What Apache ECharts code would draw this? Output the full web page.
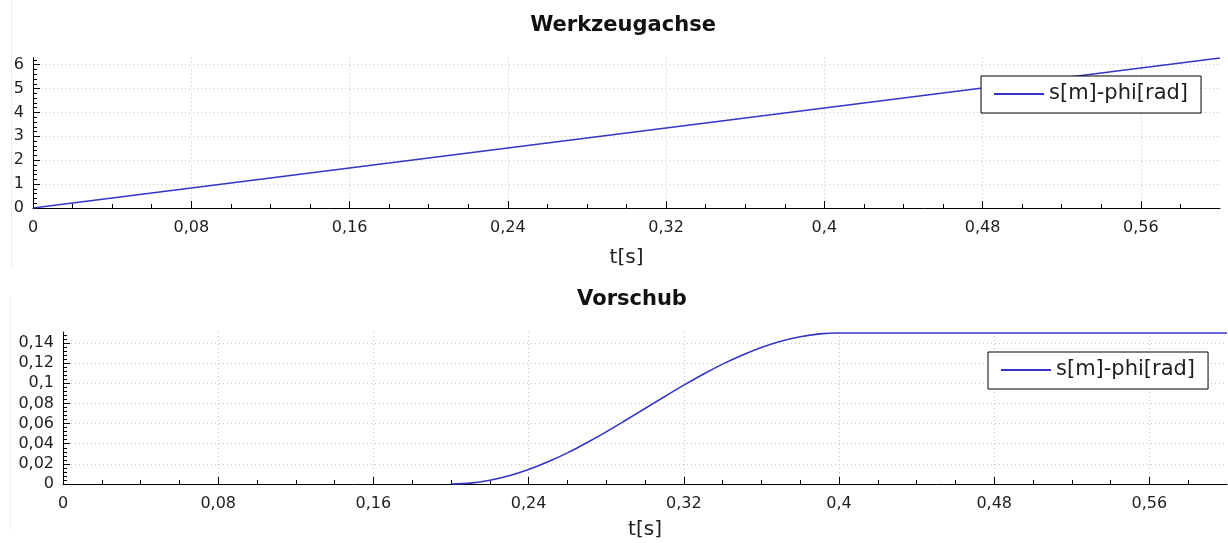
<!DOCTYPE html>
<html>
<head>
<meta charset="utf-8">
<script src="https://cdn.jsdelivr.net/npm/echarts@6/dist/echarts.min.js"></script>
<style>
  html, body { margin: 0; padding: 0; background: #fff; }
  #chart { width: 1228px; height: 543px; }
</style>
</head>
<body>
<div id="chart"></div>
<script>
const seriesName = 's[m]-phi[rad]';

// Werkzeugachse: tool axis, linear over the whole run
const toolTime  = [0, 0.3, 0.6];
const toolValue = [0, 3.14, 6.28];

// Vorschub: feed, S-shaped rise from 0.2 s, then holds
const feedTime  = [0.2, 0.21, 0.22, 0.23, 0.24, 0.25, 0.26, 0.27, 0.28, 0.29, 0.3,
                   0.31, 0.32, 0.33, 0.34, 0.35, 0.36, 0.37, 0.38, 0.39, 0.4, 0.6];
const feedValue = [0, 0.0009, 0.0037, 0.0082, 0.0143, 0.0220, 0.0309, 0.0410, 0.0518, 0.0633, 0.0750,
                   0.0867, 0.0982, 0.1091, 0.1191, 0.1280, 0.1357, 0.1418, 0.1463, 0.1491, 0.15, 0.15];

// tick labels
const timeTicks = [0, 0.08, 0.16, 0.24, 0.32, 0.4, 0.48, 0.56];
const toolTicks = [0, 1, 2, 3, 4, 5, 6];
const feedTicks = [0, 0.02, 0.04, 0.06, 0.08, 0.1, 0.12, 0.14];

const timeMax = 0.6, toolMax = 6.3, feedMax = 0.151;

// minor tick positions between the labelled ticks
function steps(step, max) {
  const out = [];
  for (let i = 1; i * step < max - 1e-9; i++) out.push(Math.round(i * step * 1e6) / 1e6);
  return out;
}
const timeMinor = steps(0.02, timeMax);
const toolMinor = steps(0.2, toolMax);
const feedMinor = steps(0.004, feedMax);

const FONT = 'DejaVu Sans';
const TEXT = '#1e1e1e';
const LINE = '#3434c6';
const comma = v => String(v).replace('.', ',');

const dotted = { show: true, lineStyle: { color: '#c4c4c4', width: 1, type: [1, 3] } };

function majorX(grid) {
  return {
    type: 'value', gridIndex: grid, position: 'bottom', min: 0, max: timeMax,
    name: 't[s]', nameLocation: 'middle', nameGap: grid === 0 ? 40 : 36,
    nameTextStyle: { fontFamily: FONT, fontSize: 20, color: TEXT, verticalAlign: 'top' },
    axisLine: { show: true, onZero: false, lineStyle: { color: '#000', width: 1 } },
    axisTick: { show: true, inside: true, length: 7, customValues: timeTicks, lineStyle: { color: '#000' } },
    axisLabel: { customValues: timeTicks, formatter: comma, margin: 12, fontFamily: FONT, fontSize: 16, color: TEXT },
    splitLine: dotted
  };
}
function minorAxis(grid, pos, max, vals) {
  return {
    type: 'value', gridIndex: grid, position: pos, min: 0, max: max,
    axisLine: { show: false },
    axisTick: { show: true, inside: true, length: 4, customValues: vals, lineStyle: { color: '#000' } },
    axisLabel: { show: false },
    splitLine: { show: false }
  };
}
function majorY(grid, max, ticks) {
  return {
    type: 'value', gridIndex: grid, position: 'left', min: 0, max: max,
    axisLine: { show: true, lineStyle: { color: '#000', width: 1 } },
    axisTick: { show: true, inside: true, length: 7, customValues: ticks, lineStyle: { color: '#000' } },
    axisLabel: { customValues: ticks, formatter: comma, margin: 9, fontFamily: FONT, fontSize: 16, color: TEXT },
    splitLine: dotted
  };
}
function legendAt(left, top) {
  return {
    left: left, top: top, orient: 'horizontal',
    data: [seriesName],
    backgroundColor: '#fff', borderColor: '#000', borderWidth: 1, borderRadius: 0,
    padding: [6, 13, 7, 12], itemWidth: 50, itemHeight: 14,
    itemStyle: { opacity: 0 },
    textStyle: { fontFamily: FONT, fontSize: 21, color: TEXT, lineHeight: 24 },
    selectedMode: false
  };
}

const chart = echarts.init(document.getElementById('chart'), null, { renderer: 'canvas' });
chart.setOption({
  animation: false,
  backgroundColor: '#fff',
  title: [
    { text: 'Werkzeugachse', left: 623, top: 15, textAlign: 'center', padding: 0,
      textStyle: { fontFamily: FONT, fontSize: 21, fontWeight: 'bold', color: '#111' } },
    { text: 'Vorschub', left: 632, top: 289, textAlign: 'center', padding: 0,
      textStyle: { fontFamily: FONT, fontSize: 21, fontWeight: 'bold', color: '#111' } }
  ],
  legend: [legendAt(981, 76), legendAt(988, 352)],
  grid: [
    { left: 33, right: 8, top: 57.5, bottom: 335, containLabel: false },
    { left: 63, right: 1, top: 332, bottom: 59, containLabel: false }
  ],
  xAxis: [
    majorX(0), minorAxis(0, 'bottom', timeMax, timeMinor),
    majorX(1), minorAxis(1, 'bottom', timeMax, timeMinor)
  ],
  yAxis: [
    majorY(0, toolMax, toolTicks), minorAxis(0, 'left', toolMax, toolMinor),
    majorY(1, feedMax, feedTicks), minorAxis(1, 'left', feedMax, feedMinor)
  ],
  graphic: [
    { type: 'line', shape: { x1: 11.5, y1: 0, x2: 11.5, y2: 268 }, style: { stroke: '#ececec', lineWidth: 1 }, silent: true },
    { type: 'line', shape: { x1: 10.5, y1: 296, x2: 10.5, y2: 530 }, style: { stroke: '#f1f1f1', lineWidth: 1 }, silent: true }
  ],
  series: [
    {
      name: seriesName, type: 'line', xAxisIndex: 0, yAxisIndex: 0,
      data: toolTime.map((t, i) => [t, toolValue[i]]),
      symbol: 'none', lineStyle: { color: LINE, width: 1.6 }, itemStyle: { color: LINE }
    },
    {
      name: seriesName, type: 'line', xAxisIndex: 2, yAxisIndex: 2,
      data: feedTime.map((t, i) => [t, feedValue[i]]),
      smooth: 0.3, symbol: 'none', lineStyle: { color: LINE, width: 1.6 }, itemStyle: { color: LINE }
    }
  ]
});
</script>
</body>
</html>
